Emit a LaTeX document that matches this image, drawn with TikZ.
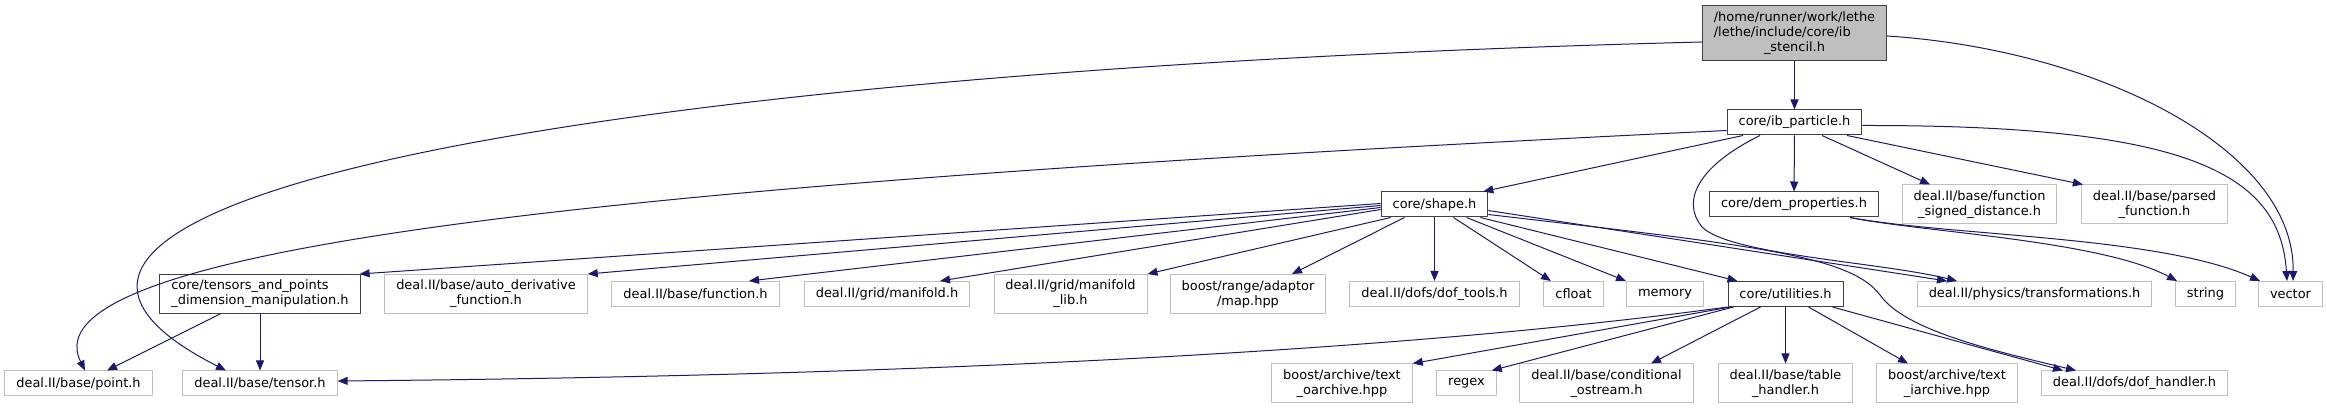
\documentclass[tikz,border=0pt]{standalone}
\usepackage{fontspec}
\setmainfont{DejaVu Sans}
\usetikzlibrary{arrows.meta,calc}
\newcommand{\Px}{0.75pt}
\newcommand{\Wire}{0.75pt}
\definecolor{wire}{HTML}{191970}
\definecolor{rootfill}{HTML}{BFBFBF}
\definecolor{coreedge}{HTML}{404040}
\definecolor{extedge}{HTML}{BFBFBF}

\begin{document}
\begin{tikzpicture}[x=\Px, y=-\Px, line join=round,
  file/.style={draw, line width=\Wire, inner xsep=8.6pt, inner ysep=0pt,
    minimum height=18.75pt, align=center,
    font=\fontsize{9.7}{11.25}\selectfont},
  core/.style={file, draw=coreedge},
  ext/.style={file, draw=extedge},
  rootfile/.style={core, fill=rootfill, minimum height=41.25pt},
  twoline/.style={minimum height=29.25pt},
  dep/.style={draw=wire, line width=\Wire, -{Triangle[length=7.5pt,width=6pt]}}]

  \useasboundingbox (0,0) rectangle (2327,409);

  % ---- rows 0 and 1 ---------------------------------------------------------
  \node[rootfile] (stencil) at (1794.5,33.5) {%
    \begin{tabular}{@{}l@{}}/home/runner/work/lethe\\/lethe/include/core/ib\\
    \multicolumn{1}{@{}c@{}}{\_stencil.h}\end{tabular}};
  \node[core] (particle) at (1794.5,122.5) {core/ib\_particle.h};

  % ---- row 2 ------------------------------------------------------------------
  \node[core] (shape) at (1434.5,204.5) {core/shape.h};
  \node[core] (demprop) at (1794,204.5) {core/dem\_properties.h};
  \node[ext,twoline] (fsigned) at (1979.5,204.5) {deal.II/base/function\\\_signed\_distance.h};
  \node[ext,twoline] (parsed) at (2154.5,204.5) {deal.II/base/parsed\\\_function.h};

  % ---- row 3 ------------------------------------------------------------------
  \node[core,twoline,align=left] (tensors) at (260,294) {core/tensors\_and\_points\\\_dimension\_manipulation.h};
  \node[ext,twoline] (autoderiv) at (486,294) {deal.II/base/auto\_derivative\\\_function.h};
  \node[ext] (function) at (695.5,294) {deal.II/base/function.h};
  \node[ext] (manifold) at (887,294) {deal.II/grid/manifold.h};
  \node[ext,twoline] (maniflib) at (1070.5,294) {deal.II/grid/manifold\\\_lib.h};
  \node[ext,twoline] (rangemap) at (1248,294) {boost/range/adaptor\\/map.hpp};
  \node[ext] (doftools) at (1434.5,294) {deal.II/dofs/dof\_tools.h};
  \node[ext] (cfloat) at (1573.5,294) {cfloat};
  \node[ext] (memory) at (1665,294) {memory};
  \node[core] (utilities) at (1785.5,294) {core/utilities.h};
  \node[ext] (transf) at (2034.5,294) {deal.II/physics/transformations.h};
  \node[ext] (string) at (2205.5,294) {string};
  \node[ext] (vector) at (2290.5,294) {vector};

  % ---- row 4 ------------------------------------------------------------------
  \node[ext] (point) at (78.5,383.5) {deal.II/base/point.h};
  \node[ext] (tensor) at (260,383.5) {deal.II/base/tensor.h};
  \node[ext,twoline] (oarchive) at (1342,383.5) {boost/archive/text\\\_oarchive.hpp};
  \node[ext] (regex) at (1466.5,383.5) {regex};
  \node[ext,twoline] (condostream) at (1606.5,383.5) {deal.II/base/conditional\\\_ostream.h};
  \node[ext,twoline] (tablehandler) at (1785.5,383.5) {deal.II/base/table\\\_handler.h};
  \node[ext,twoline] (iarchive) at (1947,383.5) {boost/archive/text\\\_iarchive.hpp};
  \node[ext] (dofhandler) at (2134.5,383.5) {deal.II/dofs/dof\_handler.h};

  % ---- includes of ib_stencil.h -------------------------------------------------
  \draw[dep] (stencil) -- (particle);
  \draw[dep] ($(stencil.west)+(0,8.5)$) .. controls (600,70) and (-110,200) .. ($(tensor.north)+(-34,0)$);
  \draw[dep] ($(stencil.east)+(0,2.5)$) .. controls (2100,50) and (2295,150) .. ($(vector.north)+(2.5,0)$);

  % ---- includes of ib_particle.h ------------------------------------------------
  \draw[dep] ($(particle.west)+(0,8)$) .. controls (700,180) and (20,240) .. ($(point.north)+(6.5,0)$);
  \draw[dep] ($(particle.south)+(-51.5,0)$) -- ($(shape.north east)+(-5,0)$);
  \draw[dep] (particle) -- (demprop);
  \draw[dep] ($(particle.south)+(27.5,0)$) -- ($(fsigned.north)+(-49.5,0)$);
  \draw[dep] ($(particle.south)+(52.5,0)$) -- ($(parsed.north west)+(2,0)$);
  \draw[dep] ($(particle.east)+(0,3)$) .. controls (2180,125) and (2280,170) .. ($(vector.north)+(-3.5,0)$);
  \draw[dep] ($(particle.south)+(-34.5,0)$) .. controls (1700,165) and (1680,200) .. (1702,227)
    .. controls (1730,255) and (1880,262) .. ($(transf.north)+(-77.5,0)$);

  % ---- includes of shape.h ------------------------------------------------------
  \draw[dep] ($(shape.west)+(0,-1)$) -- ($(tensors.north east)+(-1,0)$);
  \draw[dep] ($(shape.west)+(0,1)$) -- (autoderiv.north east);
  \draw[dep] ($(shape.west)+(0,3)$) -- ($(function.north)+(53.5,0)$);
  \draw[dep] ($(shape.west)+(0,5)$) -- ($(manifold.north)+(53,0)$);
  \draw[dep] ($(shape.south west)+(10,0)$) -- (maniflib.north east);
  \draw[dep] ($(shape.south)+(-30,0)$) -- ($(rangemap.north)+(44,0)$);
  \draw[dep] (shape) -- (doftools);
  \draw[dep] ($(shape.south)+(19,0)$) -- ($(cfloat.north)+(-22.5,0)$);
  \draw[dep] ($(shape.south)+(32,0)$) -- (memory.north west);
  \draw[dep] ($(shape.south east)+(-8,0)$) -- ($(utilities.north)+(-48,0)$);
  \draw[dep] ($(shape.east)+(0,6)$) -- ($(transf.north)+(-87.5,0)$);
  \draw[dep] ($(shape.east)+(0,10)$) .. controls (1750,245) and (1850,255) .. (1880,295)
    .. controls (1905,330) and (1990,350) .. ($(dofhandler.north)+(-58.5,0)$);

  % ---- includes of dem_properties.h ---------------------------------------------
  \draw[dep] ($(demprop.south)+(56,0)$) .. controls (1920,232) and (2100,240) .. ($(string.north)+(-28.5,0)$);
  \draw[dep] ($(demprop.south)+(56,0)$) .. controls (1950,236) and (2160,236) .. ($(vector.north)+(-30.5,0)$);

  % ---- includes of tensors_and_points_dimension_manipulation.h ------------------
  \draw[dep] ($(tensors.south)+(-40,0)$) -- ($(point.north)+(28.5,0)$);
  \draw[dep] (tensors) -- (tensor);

  % ---- includes of utilities.h --------------------------------------------------
  \draw[dep] (utilities.south west) .. controls (1450,345) and (1000,375) .. ($(tensor.east)+(0,-2.5)$);
  \draw[dep] ($(utilities.south west)+(3,0)$) -- (oarchive.north east);
  \draw[dep] ($(utilities.south west)+(6,0)$) -- ($(regex.north east)+(-5,0)$);
  \draw[dep] ($(utilities.south)+(-25,0)$) -- ($(condostream.north)+(44.5,0)$);
  \draw[dep] (utilities) -- (tablehandler);
  \draw[dep] ($(utilities.south)+(23,0)$) -- ($(iarchive.north)+(-39,0)$);
  \draw[dep] ($(utilities.south east)+(-11,0)$) -- ($(dofhandler.north)+(-71.5,0)$);

\end{tikzpicture}
\end{document}
